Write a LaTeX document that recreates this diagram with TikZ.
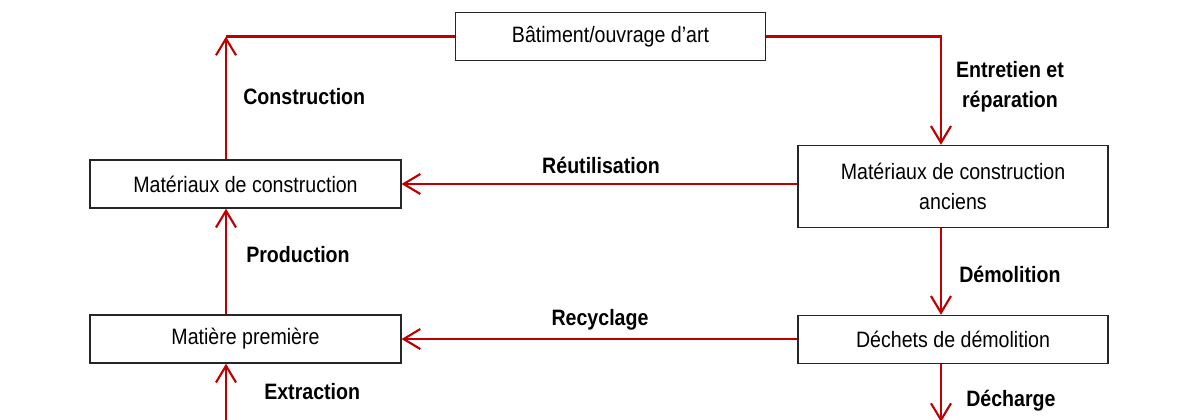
\documentclass[tikz,border=0pt]{standalone}
\usepackage{fontspec}
\setmainfont[FakeStretch=0.88]{Liberation Sans}
\usetikzlibrary{arrows.meta}
\definecolor{flowred}{HTML}{C00000}

\begin{document}
\begin{tikzpicture}[x=0.75pt,y=-0.75pt]
        \tikzstyle{every node}=[font=\fontsize{16.7}{23}\selectfont]
        \tikzstyle{box}=[draw=black!85, line width=1.1pt, inner sep=0pt, align=center, minimum height=36pt]
        \tikzstyle{flow}=[draw=flowred, line width=1.6pt, -{Straight Barb[length=12.5pt,width=15pt]}]
        \tikzstyle{link}=[draw=flowred, line width=1.6pt]
        \tikzstyle{lbl}=[font=\fontsize{16.7}{22.5}\selectfont\bfseries, inner sep=0pt, align=center]

        \useasboundingbox (0,0) rectangle (1182,419);

        % boxes
        \node[box, minimum width=232.5pt] (batiment) at (610.5,36.5) {B\^atiment/ouvrage d'art};
        \node[box, minimum width=233pt] (matconst) at (245.5,184) {Mat\'eriaux de construction};
        \node[box, minimum width=232.5pt, minimum height=61.5pt] (anciens) at (953,186.5) {Mat\'eriaux de construction\\anciens};
        \node[box, minimum width=233pt] (matprem) at (245.5,339) {Mati\`ere premi\`ere};
        \node[box, minimum width=232.5pt] (dechets) at (953,339.5) {D\'echets de d\'emolition};

        \coordinate (topleft) at (226,36.5);
        \coordinate (topright) at (941,36.5);
        \coordinate (extr) at (226,421);
        \coordinate (decharge) at (941,422);

        % connectors
        \draw[link] (batiment.west) -- (topleft);
        \draw[flow] (topleft |- matconst.north) -- (topleft);
        \draw[flow] (batiment.east) -- (topright) -- (topright |- anciens.north);
        \draw[flow] (anciens.west |- matconst.east) -- (matconst.east);
        \draw[flow] (topright |- anciens.south) -- (topright |- dechets.north);
        \draw[flow] (dechets.west |- matprem.east) -- (matprem.east);
        \draw[flow] (topleft |- matprem.north) -- (topleft |- matconst.south);
        \draw[flow] (extr) -- (topleft |- matprem.south);
        \draw[flow] (topright |- dechets.south) -- (decharge);

        % labels
        \node[lbl, anchor=west] (l_constr) at (243,97) {Construction};
        \node[lbl] (l_entr) at (1010,87) {Entretien et\\r\'eparation};
        \node[lbl] (l_reut) at (601,165) {R\'eutilisation};
        \node[lbl, anchor=west] (l_prod) at (246,255) {Production};
        \node[lbl, anchor=west] (l_demol) at (959,274) {D\'emolition};
        \node[lbl] (l_recyc) at (600,320) {Recyclage};
        \node[lbl, anchor=west] (l_extr) at (264,392) {Extraction};
        \node[lbl, anchor=west] (l_dech) at (966,401) {D\'echarge};
\end{tikzpicture}
\end{document}
